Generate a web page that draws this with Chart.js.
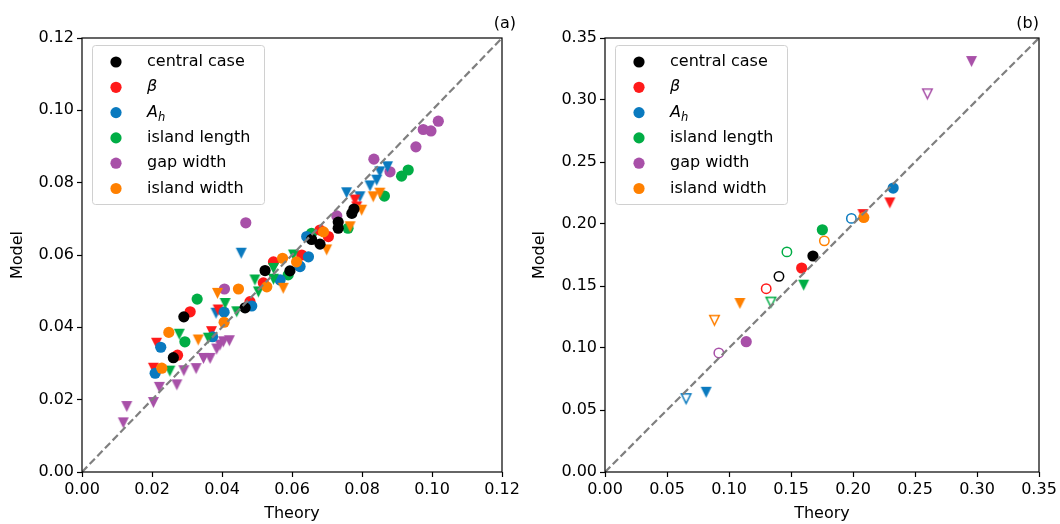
<!DOCTYPE html>
<html>
<head>
<meta charset="utf-8">
<script src="https://cdn.jsdelivr.net/npm/chart.js@4.4.1/dist/chart.umd.min.js"></script>
<style>
  html, body { margin: 0; padding: 0; background: #fff; }
  #wrap { position: relative; width: 1060px; height: 524px; }
  #chartA { position: absolute; left: 0; top: 0; }
  #chartB { position: absolute; left: 526px; top: 0; }
</style>
</head>
<body>
<div id="wrap">
  <canvas id="chartA" width="526" height="524" style="width:526px;height:524px"></canvas>
  <canvas id="chartB" width="534" height="524" style="width:534px;height:524px"></canvas>
</div>
<script>
// ---- series colours / legend ----
const seriesNames = ["central case", "β", "A", "island length", "gap width", "island width"];
const seriesColors = ["#000000", "#ff1a1a", "#0a7abf", "#00ad45", "#a850a8", "#ff8000"];

// ---- panel (a): [theory, model] ----
const aCentral = [[0.0261,0.0316],[0.0291,0.0429],[0.0466,0.0454],[0.0523,0.0557],[0.0594,0.0556],[0.0656,0.0643],[0.0680,0.0630],[0.0732,0.0674],[0.0732,0.0691],[0.0771,0.0715],[0.0777,0.0727]];
const aBetaCirc = [[0.0273,0.0323],[0.0309,0.0443],[0.0480,0.0471],[0.0518,0.0523],[0.0547,0.0581],[0.0628,0.0600],[0.0680,0.0669],[0.0704,0.0651]];
const aBetaTri = [[0.0204,0.0287],[0.0213,0.0356],[0.0370,0.0388],[0.0389,0.0448],[0.0785,0.0733],[0.0780,0.0752]];
const aAhCirc = [[0.0209,0.0273],[0.0225,0.0345],[0.0373,0.0374],[0.0406,0.0442],[0.0485,0.0459],[0.0566,0.0531],[0.0621,0.0570],[0.0623,0.0568],[0.0647,0.0595],[0.0642,0.0651]];
const aAhTri = [[0.0383,0.0439],[0.0455,0.0605],[0.0756,0.0772],[0.0794,0.0761],[0.0823,0.0791],[0.0842,0.0807],[0.0851,0.0830],[0.0873,0.0844]];
const aLenCirc = [[0.0294,0.0360],[0.0329,0.0478],[0.0589,0.0545],[0.0656,0.0660],[0.0760,0.0674],[0.0864,0.0763],[0.0913,0.0818],[0.0932,0.0835]];
const aLenTri = [[0.0251,0.0279],[0.0278,0.0381],[0.0361,0.0370],[0.0409,0.0466],[0.0442,0.0443],[0.0494,0.0531],[0.0504,0.0498],[0.0547,0.0533],[0.0547,0.0563],[0.0604,0.0600]];
const aGapCirc = [[0.0407,0.0506],[0.0468,0.0689],[0.0728,0.0708],[0.0834,0.0865],[0.0880,0.0830],[0.0954,0.0899],[0.0975,0.0947],[0.0997,0.0943],[0.1018,0.0970]];
const aGapTri = [[0.0118,0.0136],[0.0128,0.0181],[0.0204,0.0192],[0.0221,0.0234],[0.0271,0.0241],[0.0291,0.0280],[0.0326,0.0286],[0.0347,0.0314],[0.0366,0.0314],[0.0385,0.0340],[0.0394,0.0351],[0.0404,0.0360],[0.0421,0.0363]];
const aWidCirc = [[0.0228,0.0287],[0.0248,0.0386],[0.0406,0.0414],[0.0447,0.0506],[0.0528,0.0512],[0.0573,0.0591],[0.0613,0.0581],[0.0690,0.0664]];
const aWidTri = [[0.0332,0.0365],[0.0387,0.0494],[0.0575,0.0508],[0.0699,0.0614],[0.0766,0.0678],[0.0799,0.0724],[0.0832,0.0761],[0.0851,0.0771]];

// ---- panel (b) ----
const bCentralFill = [[0.1677,0.1742]];
const bCentralOpen = [[0.1403,0.1578]];
const bBetaFill = [[0.1586,0.1645]];
const bBetaOpen = [[0.1300,0.1478]];
const bBetaTri = [[0.2297,0.2170],[0.2080,0.2076]];
const bAhFill = [[0.2324,0.2290]];
const bAhOpen = [[0.1987,0.2045]];
const bAhTri = [[0.0816,0.0643]];
const bAhTriOpen = [[0.0654,0.0592]];
const bLenFill = [[0.1753,0.1953]];
const bLenOpen = [[0.1467,0.1775]];
const bLenTri = [[0.1602,0.1507]];
const bLenTriOpen = [[0.1338,0.1370]];
const bGapFill = [[0.1139,0.1051]];
const bGapOpen = [[0.0918,0.0960]];
const bGapTri = [[0.2956,0.3310]];
const bGapTriOpen = [[0.2600,0.3050]];
const bWidFill = [[0.2087,0.2053]];
const bWidOpen = [[0.1769,0.1864]];
const bWidTri = [[0.1088,0.1359]];
const bWidTriOpen = [[0.0883,0.1224]];

const aTicks = [0, 0.02, 0.04, 0.06, 0.08, 0.10, 0.12];
const bTicks = [0, 0.05, 0.10, 0.15, 0.20, 0.25, 0.30, 0.35];

const FONT = "DejaVu Sans";

// matplotlib-like 'v' marker as an image (width == height)
function triImage(color, open) {
  const S = open ? 9.5 : 11, W = 15, c = W / 2;
  const cv = document.createElement("canvas");
  cv.width = W; cv.height = W;
  const g = cv.getContext("2d");
  g.beginPath();
  g.moveTo(c - S / 2, c - S / 2);
  g.lineTo(c + S / 2, c - S / 2);
  g.lineTo(c, c + S / 2);
  g.closePath();
  if (open) {
    g.strokeStyle = color; g.lineWidth = 1.5; g.lineJoin = "miter"; g.stroke();
  } else {
    g.fillStyle = color; g.fill();
  }
  return cv;
}

const toPts = arr => arr.map(p => ({ x: p[0], y: p[1] }));

function circleSet(pts, color, open) {
  return {
    data: toPts(pts), pointStyle: "circle",
    pointRadius: open ? 4.7 : 5.6, pointHoverRadius: open ? 4.7 : 5.6,
    backgroundColor: open ? "rgba(0,0,0,0)" : color,
    borderColor: color, borderWidth: open ? 1.5 : 0
  };
}
function triSet(pts, color, open) {
  return {
    data: toPts(pts), pointStyle: triImage(color, open),
    pointRadius: 6, backgroundColor: color, borderColor: color, borderWidth: 0
  };
}

function diagSet(max) {
  return {
    type: "line", data: [{ x: 0, y: 0 }, { x: max, y: max }],
    borderColor: "#7f7f7f", borderWidth: 2.2, borderDash: [7.5, 3.5],
    pointRadius: 0, showLine: true, fill: false
  };
}

function drawLegend(ctx, x, y) {
  const w = 172, h = 159, rowH = 25.3;
  ctx.beginPath();
  ctx.roundRect(x + 0.5, y + 0.5, w, h, 3);
  ctx.fillStyle = "rgba(255,255,255,0.8)";
  ctx.fill();
  ctx.strokeStyle = "#d0d0d0";
  ctx.lineWidth = 1;
  ctx.stroke();
  ctx.textBaseline = "middle";
  ctx.textAlign = "left";
  seriesNames.forEach((name, i) => {
    const cy = y + 17 + i * rowH;
    ctx.beginPath();
    ctx.arc(x + 24, cy, 5.6, 0, Math.PI * 2);
    ctx.fillStyle = seriesColors[i];
    ctx.fill();
    ctx.fillStyle = "#000";
    const tx = x + 55;
    if (i === 1) {
      ctx.font = `italic 16px ${FONT}`;
      ctx.fillText(name, tx, cy);
    } else if (i === 2) {
      ctx.font = `italic 16px ${FONT}`;
      ctx.fillText(name, tx, cy);
      const aw = ctx.measureText(name).width;
      ctx.font = `italic 11.5px ${FONT}`;
      ctx.fillText("h", tx + aw, cy + 5);
    } else {
      ctx.font = `16px ${FONT}`;
      ctx.fillText(name, tx, cy);
    }
  });
}

const panelDeco = {
  id: "panelDeco",
  afterDatasetsDraw(chart, args, opts) {
    const { ctx, chartArea } = chart;
    const { left, top, right, bottom } = chartArea;
    ctx.save();
    ctx.strokeStyle = "#000";
    ctx.lineWidth = 1.2;
    ctx.strokeRect(left, top, right - left, bottom - top);
    drawLegend(ctx, left + 10, top + 7);
    ctx.fillStyle = "#000";
    ctx.font = `16px ${FONT}`;
    ctx.textAlign = "right";
    ctx.textBaseline = "alphabetic";
    ctx.fillText(opts.tag, right + opts.tagShift, 28);
    ctx.restore();
  }
};

function axis(max, ticks, title, fitFn) {
  return {
    type: "linear", min: 0, max: max,
    afterBuildTicks: s => { s.ticks = ticks.map(v => ({ value: v })); },
    ticks: {
      callback: v => Number(v).toFixed(2),
      font: { family: FONT, size: 16 }, color: "#000",
      padding: 3, maxRotation: 0, autoSkip: false
    },
    grid: { display: true, drawOnChartArea: false, drawTicks: true, tickLength: 5, tickColor: "#000", tickWidth: 1.2 },
    border: { display: false },
    title: { display: true, text: title, font: { family: FONT, size: 16 }, color: "#000", padding: { top: 0, bottom: 1 } },
    afterFit: fitFn
  };
}

function makePanel(id, max, ticks, datasets, yWidth, yTitlePad, rightPad, tag, tagShift) {
  datasets.forEach((d, i) => { d.order = -i; });
  const yAxis = axis(max, ticks, "Model", s => { s.width = yWidth; });
  yAxis.title.padding = { top: yTitlePad, bottom: 0 };
  return new Chart(document.getElementById(id), {
    type: "scatter",
    data: { datasets: datasets },
    options: {
      responsive: false, animation: false, devicePixelRatio: 1,
      layout: { padding: { top: 38, right: rightPad, left: 0, bottom: 0 } },
      plugins: { legend: { display: false }, tooltip: { enabled: false }, panelDeco: { tag: tag, tagShift: tagShift } },
      scales: {
        x: axis(max, ticks, "Theory", s => { s.height = 52; }),
        y: yAxis
      }
    },
    plugins: [panelDeco]
  });
}

const [cBlack, cRed, cBlue, cGreen, cPurple, cOrange] = seriesColors;

const dsA = [
  triSet(aGapTri, cPurple, false),
  circleSet(aGapCirc, cPurple, false),
  triSet(aAhTri, cBlue, false),
  circleSet(aLenCirc, cGreen, false),
  triSet(aBetaTri, cRed, false),
  circleSet(aBetaCirc, cRed, false),
  circleSet(aAhCirc, cBlue, false),
  triSet(aLenTri, cGreen, false),
  circleSet(aWidCirc, cOrange, false),
  triSet(aWidTri, cOrange, false),
  circleSet(aCentral, cBlack, false),
  diagSet(0.12)
];

const dsB = [
  circleSet(bCentralOpen, cBlack, true),
  circleSet(bCentralFill, cBlack, false),
  triSet(bBetaTri, cRed, false),
  circleSet(bBetaOpen, cRed, true),
  circleSet(bBetaFill, cRed, false),
  triSet(bAhTri, cBlue, false),
  triSet(bAhTriOpen, cBlue, true),
  circleSet(bAhOpen, cBlue, true),
  circleSet(bAhFill, cBlue, false),
  triSet(bLenTri, cGreen, false),
  triSet(bLenTriOpen, cGreen, true),
  circleSet(bLenOpen, cGreen, true),
  circleSet(bLenFill, cGreen, false),
  triSet(bGapTri, cPurple, false),
  triSet(bGapTriOpen, cPurple, true),
  circleSet(bGapOpen, cPurple, true),
  circleSet(bGapFill, cPurple, false),
  triSet(bWidTri, cOrange, false),
  triSet(bWidTriOpen, cOrange, true),
  circleSet(bWidOpen, cOrange, true),
  circleSet(bWidFill, cOrange, false),
  diagSet(0.35)
];

makePanel("chartA", 0.12, aTicks, dsA, 82, 8, 24, "(a)", 14);
makePanel("chartB", 0.35, bTicks, dsB, 79, 4, 21, "(b)", 0);
</script>
</body>
</html>
